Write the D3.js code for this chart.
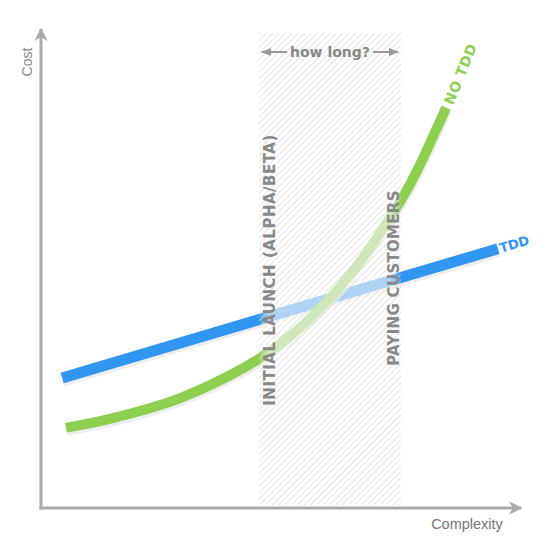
<!DOCTYPE html>
<html><head><meta charset="utf-8">
<script src="https://cdn.jsdelivr.net/npm/d3@7"></script>
<style>body{margin:0;background:#fff}svg{display:block}</style>
</head><body>
<script>
// Data (x = complexity, y = cost, arbitrary units 0..100)
const tddX = [4.4, 95.2];
const tddY = [27.1, 54.0];
const noTddX = [5.2, 12.3, 20.6, 29.0, 37.3, 45.6, 54.0, 62.3, 68.5, 74.8, 79.0, 84.4];
const noTddY = [16.7, 18.1, 20.2, 22.9, 26.6, 31.2, 37.6, 46.1, 54.1, 63.8, 71.6, 83.4];
const bandX = [45.4, 75.0];
const labels = { x: "Complexity", y: "Cost", tdd: "TDD", noTdd: "NO TDD",
  band: "how long?", launch: "INITIAL LAUNCH (ALPHA/BETA)", paying: "PAYING CUSTOMERS" };

const W = 550, H = 550;
const x = d3.scaleLinear().domain([0, 100]).range([41, 521]);
const y = d3.scaleLinear().domain([0, 100]).range([508, 28]);
const BOLD = "DejaVu Sans, Verdana, sans-serif";
const REG = "Liberation Sans, Arial, sans-serif";

const svg = d3.select("body").append("svg").attr("width", W).attr("height", H);
const defs = svg.append("defs");
const pat = defs.append("pattern").attr("id", "hatch").attr("patternUnits", "userSpaceOnUse")
  .attr("width", 4.5).attr("height", 4.5).attr("patternTransform", "rotate(45)");
pat.append("line").attr("x1", 0).attr("y1", 0).attr("x2", 0).attr("y2", 4.5)
  .attr("stroke", "#d6d6d6").attr("stroke-width", 1.3);
const grad = defs.append("linearGradient").attr("id", "fade").attr("x1", 0).attr("x2", 1).attr("y1", 0).attr("y2", 0);
[[0, 0], [0.07, 0.58], [0.93, 0.58], [1, 0]].forEach(([o, a]) =>
  grad.append("stop").attr("offset", o).attr("stop-color", "#fff").attr("stop-opacity", a));
defs.append("marker").attr("id", "ah").attr("viewBox", "0 0 10 10").attr("refX", 9).attr("refY", 5)
  .attr("markerWidth", 4.5).attr("markerHeight", 4.5).attr("orient", "auto")
  .append("path").attr("d", "M0,0 L10,5 L0,10 L3,5 Z").attr("fill", "#aaa");
defs.append("marker").attr("id", "ah2").attr("viewBox", "0 0 10 10").attr("refX", 9).attr("refY", 5)
  .attr("markerWidth", 5).attr("markerHeight", 5).attr("orient", "auto-start-reverse")
  .append("path").attr("d", "M0,1 L10,5 L0,9 Z").attr("fill", "#999");

const bx0 = x(bandX[0]), bx1 = x(bandX[1]), bTop = 33, bBot = 505;

// lines
const tdd = tddX.map((v, i) => [v, tddY[i]]);
const noTdd = noTddX.map((v, i) => [v, noTddY[i]]);
const curve = d3.line().x(d => x(d[0])).y(d => y(d[1])).curve(d3.curveNatural);

[[tdd, "#3196f2", 11], [noTdd, "#8dd04f", 10]].forEach(([data, c, w]) => {
  svg.append("path").attr("d", curve(data)).attr("fill", "none").attr("stroke", "#e6e6e6")
    .attr("stroke-width", w).attr("transform", "translate(1,3)").attr("opacity", 0.7);
  svg.append("path").attr("d", curve(data)).attr("fill", "none").attr("stroke", c)
    .attr("stroke-width", w);
});

// band overlay
svg.append("rect").attr("x", bx0).attr("y", bTop).attr("width", bx1 - bx0).attr("height", bBot - bTop)
  .attr("fill", "url(#fade)");
svg.append("rect").attr("x", bx0).attr("y", bTop).attr("width", bx1 - bx0).attr("height", bBot - bTop)
  .attr("fill", "url(#hatch)");

// how long
const hl = svg.append("text").attr("x", (bx0 + bx1) / 2).attr("y", 57).attr("text-anchor", "middle")
  .attr("font-family", BOLD).attr("font-weight", "bold")
  .attr("font-size", 14).attr("fill", "#888").text(labels.band);
const hw = hl.node().getComputedTextLength();
svg.append("line").attr("x1", (bx0 + bx1) / 2 - hw / 2 - 3).attr("x2", bx0 + 3).attr("y1", 52).attr("y2", 52)
  .attr("stroke", "#999").attr("stroke-width", 2).attr("marker-end", "url(#ah2)");
svg.append("line").attr("x1", (bx0 + bx1) / 2 + hw / 2 + 3).attr("x2", bx1 - 3).attr("y1", 52).attr("y2", 52)
  .attr("stroke", "#999").attr("stroke-width", 2).attr("marker-end", "url(#ah2)");

// vertical labels
svg.append("text").attr("transform", `translate(${bx0 + 16},270) rotate(-90)`).attr("text-anchor", "middle")
  .attr("font-family", BOLD).attr("font-weight", "bold").attr("letter-spacing", 0.5)
  .attr("font-size", 15).attr("fill", "#888").text(labels.launch);
svg.append("text").attr("transform", `translate(${bx1 - 2},278) rotate(-90)`).attr("text-anchor", "middle")
  .attr("font-family", BOLD).attr("font-weight", "bold").attr("letter-spacing", 0.3)
  .attr("font-size", 15).attr("fill", "#888").text(labels.paying);

// series labels
const tEnd = tdd[tdd.length - 1];
const ang = Math.atan2(y(tdd[1][1]) - y(tdd[0][1]), x(tdd[1][0]) - x(tdd[0][0])) * 180 / Math.PI;
svg.append("text").attr("transform", `translate(${x(tEnd[0]) + 3},${y(tEnd[1]) + 4}) rotate(${ang})`)
  .attr("font-family", BOLD).attr("font-weight", "bold")
  .attr("font-size", 13).attr("fill", "#3196f2").text(labels.tdd);
const nEnd = noTdd[noTdd.length - 1];
svg.append("text").attr("transform", `translate(${x(nEnd[0]) + 7},${y(nEnd[1]) - 2}) rotate(-68)`)
  .attr("font-family", BOLD).attr("font-weight", "bold").attr("letter-spacing", 0.5)
  .attr("font-size", 14).attr("fill", "#8dd04f").text(labels.noTdd);

// axes
svg.append("line").attr("x1", x(0)).attr("y1", y(0) + 1.5).attr("x2", x(0)).attr("y2", 29)
  .attr("stroke", "#aaa").attr("stroke-width", 3).attr("marker-end", "url(#ah)");
svg.append("line").attr("x1", x(0) - 1.5).attr("y1", y(0)).attr("x2", 521).attr("y2", y(0))
  .attr("stroke", "#aaa").attr("stroke-width", 3).attr("marker-end", "url(#ah)");
svg.append("text").attr("transform", "translate(32,62) rotate(-90)").attr("text-anchor", "middle")
  .attr("font-family", REG).attr("font-size", 14).attr("fill", "#888")
  .text(labels.y);
svg.append("text").attr("x", 467).attr("y", 529).attr("text-anchor", "middle")
  .attr("font-family", REG).attr("font-size", 14.5).attr("fill", "#777")
  .text(labels.x);
</script>
</body></html>
